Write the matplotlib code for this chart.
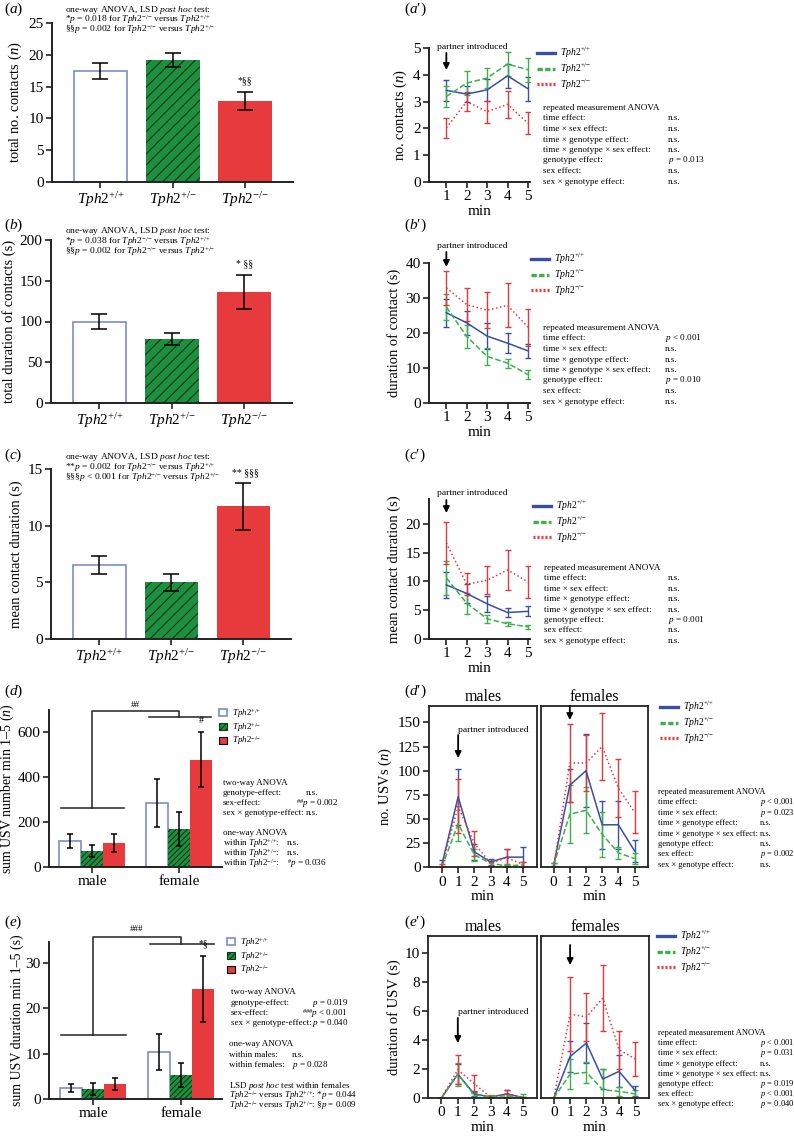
import matplotlib.pyplot as plt
from matplotlib.patches import Patch
from matplotlib.lines import Line2D

# figure size in pixels
W, H = 794, 1137

plt.rcParams['font.family'] = ['Liberation Serif', 'DejaVu Serif']
plt.rcParams['mathtext.fontset'] = 'custom'
plt.rcParams['mathtext.rm'] = 'Liberation Serif'
plt.rcParams['mathtext.it'] = 'Liberation Serif:italic'
plt.rcParams['mathtext.bf'] = 'Liberation Serif:bold'
plt.rcParams['hatch.linewidth'] = 0.8

# genotype labels
wt = r'$\mathit{Tph2}^{{+}/{+}}$'
het = r'$\mathit{Tph2}^{{+}/{-}}$'
ko = r'$\mathit{Tph2}^{{-}/{-}}$'
genotypes = [wt, het, ko]

# (a)-(c) one-way bars, mean and sem per genotype
contacts = [17.5, 19.2, 12.7]
contacts_sem = [1.25, 1.15, 1.4]
duration = [100.0, 78.4, 136.7]
duration_sem = [9.4, 7.6, 20.8]
mean_dur = [6.5, 5.0, 11.7]
mean_dur_sem = [0.78, 0.77, 2.05]

# (d), (e) bars per sex and genotype
sexes = ['male', 'female']
usv_num = [[115, 70, 107], [285, 170, 478]]
usv_num_sem = [[32, 26, 42], [108, 75, 122]]
usv_dur = [[2.4, 2.2, 3.3], [10.3, 5.3, 24.2]]
usv_dur_sem = [[0.8, 1.3, 1.4], [3.95, 2.6, 7.3]]

# (a')-(c') time course, min 1-5 (wt, het, ko)
minutes = [1, 2, 3, 4, 5]
tc_contacts = [[3.42, 3.28, 3.44, 3.96, 3.48],
               [3.19, 3.69, 3.88, 4.40, 4.19],
               [2.02, 3.00, 2.62, 2.90, 2.19]]
tc_contacts_sem = [[0.40, 0.30, 0.40, 0.46, 0.45],
                   [0.39, 0.46, 0.36, 0.46, 0.45],
                   [0.36, 0.36, 0.41, 0.50, 0.41]]
tc_duration = [[25.8, 22.9, 19.1, 17.1, 14.9],
               [27.4, 19.0, 13.3, 11.4, 8.1],
               [32.9, 28.1, 26.5, 27.9, 21.7]]
tc_duration_sem = [[4.0, 3.4, 3.7, 2.9, 2.1],
                   [3.7, 3.4, 2.4, 1.3, 1.3],
                   [4.8, 4.8, 5.2, 6.3, 5.3]]
tc_mean = [[9.4, 7.9, 6.1, 4.6, 4.8],
           [10.6, 6.2, 3.5, 2.65, 2.1],
           [16.7, 9.5, 10.2, 12.0, 9.9]]
tc_mean_sem = [[2.3, 1.6, 1.45, 0.85, 0.85],
               [2.9, 1.8, 0.75, 0.35, 0.4],
               [3.6, 1.9, 2.4, 3.5, 2.7]]

# (d'), (e') time course, min 0-5, [males, females] x (wt, het, ko)
minutes0 = [0, 1, 2, 3, 4, 5]
tc_usv_num = [[[3, 73, 16, 5.5, 10.5, 10.5],
               [0.7, 45, 13, 4, 1.5, 2.5],
               [1.5, 63, 25, 4, 10, 3]],
              [[2, 85, 100, 44, 44, 17],
               [2, 55, 59, 34, 15, 9],
               [0, 108, 108, 125, 82, 57]]]
tc_usv_num_sem = [[[5, 29, 8, 3, 8, 10],
                   [1, 18, 6, 3, 1.5, 2.5],
                   [1.5, 28, 13, 3, 9, 3]],
                  [[2, 17, 38, 25, 25, 11],
                   [2, 30, 24, 23, 6, 6],
                   [1, 40, 29, 35, 30, 22]]]
tc_usv_dur = [[[0, 1.65, 0.28, 0.07, 0.28, 0.02],
               [0, 1.65, 0.20, 0.10, 0.15, 0.05],
               [0, 1.95, 0.99, 0.05, 0.30, 0.02]],
              [[0, 2.87, 3.80, 1.31, 1.84, 0.50],
               [0, 1.65, 1.77, 0.57, 0.46, 0.28],
               [0, 5.80, 5.60, 6.90, 3.33, 2.70]]]
tc_usv_dur_sem = [[[0.02, 0.7, 0.17, 0.05, 0.3, 0.02],
                   [0.02, 0.8, 0.15, 0.12, 0.15, 0.25],
                   [0.02, 1.0, 0.6, 0.05, 0.25, 0.02]],
                  [[0.02, 1.05, 1.4, 0.7, 1.1, 0.35],
                   [0.02, 1.05, 0.75, 1.45, 0.3, 0.25],
                   [0.02, 2.55, 1.65, 2.3, 1.3, 1.15]]]

# statistics shown next to the time courses
anova_rows = ['time effect:', 'time × sex effect:', 'time × genotype effect:',
              'time × genotype × sex effect:', 'genotype effect:', 'sex effect:',
              'sex × genotype effect:']
anova_a = ['n.s.', 'n.s.', 'n.s.', 'n.s.', '$p$ = 0.013', 'n.s.', 'n.s.']
anova_b = ['$p$ < 0.001', 'n.s.', 'n.s.', 'n.s.', '$p$ = 0.010', 'n.s.', 'n.s.']
anova_c = ['n.s.', 'n.s.', 'n.s.', 'n.s.', '$p$ = 0.001', 'n.s.', 'n.s.']
anova_d = ['$p$ < 0.001', '$p$ = 0.023', 'n.s.', 'n.s.', 'n.s.', '$p$ = 0.002', 'n.s.']
anova_e = ['$p$ < 0.001', '$p$ = 0.031', 'n.s.', 'n.s.', '$p$ = 0.019', '$p$ < 0.001', '$p$ = 0.040']

# colours
line_cols = ['#3a4ea3', '#3db049', '#e5383b']
line_styles = ['-', '--', ':']
legend_styles = ['-', (0, (1.6, 0.7)), (0, (0.6, 0.6))]
open_edge = '#7b8cc8'
green_fill = '#1f8f3f'
green_hatch = '#0d3b1a'
red_fill = '#e73a3c'
spine_col = '#222222'


def box(l, t, r, b):
    return [l / W, 1 - b / H, (r - l) / W, (b - t) / H]


def fy(y):
    return 1 - y / H


def txt(x, y, s, size=7, **kw):
    fig.text(x / W, fy(y), s, fontsize=size, va='center', **kw)


def style_axes(ax, size=11):
    for side in ['top', 'right']:
        ax.spines[side].set_visible(False)
    for side in ['left', 'bottom']:
        ax.spines[side].set_color(spine_col)
        ax.spines[side].set_linewidth(1.4)
    ax.tick_params(direction='out', length=4, width=1.2, labelsize=size, color=spine_col, pad=2)


def draw_bars(ax, xs, vals, sems, width, hatch, cap):
    ax.bar(xs[0], vals[0], width=width, color='white', edgecolor=open_edge, linewidth=1.2)
    ax.bar(xs[1], vals[1], width=width, color=green_fill, edgecolor=green_hatch, linewidth=0, hatch=hatch)
    ax.bar(xs[2], vals[2], width=width, color=red_fill, linewidth=0)
    ax.errorbar(xs, vals, yerr=sems, fmt='none', ecolor='black', elinewidth=1.1,
                capsize=cap, capthick=1.1, zorder=5)


def arrow(ax, xval, tail, head):
    ax.annotate('', xy=(xval, fy(head)), xytext=(xval, fy(tail)),
                xycoords=('data', 'figure fraction'), textcoords=('data', 'figure fraction'),
                arrowprops=dict(arrowstyle='-|>', color='black', lw=1.3, mutation_scale=9,
                                shrinkA=0, shrinkB=0),
                annotation_clip=False)


def anova_block(x_lab, y0, x_val, dy, values, size=6.6):
    txt(x_lab, y0, 'repeated measurement ANOVA', size=size)
    for i, (lab, val) in enumerate(zip(anova_rows, values)):
        txt(x_lab, y0 + dy * (i + 1), lab, size=size)
        txt(x_val, y0 + dy * (i + 1), val, size=size)


def line_legend(x, y):
    handles = [Line2D([], [], color=c, ls=s, lw=2.4) for c, s in zip(line_cols, legend_styles)]
    fig.legend(handles, genotypes, loc='upper left', bbox_to_anchor=(x / W, fy(y)),
               frameon=False, fontsize=7, handlelength=1.9, handletextpad=0.5,
               labelspacing=0.12, borderpad=0, borderaxespad=0)


fig = plt.figure(figsize=(W / 100, H / 100), dpi=100)

# ---------------- left column (a)-(c) ----------------
bar_specs = [
    (box(52, 23, 293, 182), contacts, contacts_sem, 25, [0, 5, 10, 15, 20, 25],
     'total no. contacts ($n$)'),
    (box(51, 240, 292, 403), duration, duration_sem, 200, [0, 50, 100, 150, 200],
     'total duration of contacts (s)'),
    (box(51, 469, 291, 639), mean_dur, mean_dur_sem, 15, [0, 5, 10, 15],
     'mean contact duration (s)'),
]
for rect, vals, sems, top, ticks, ylab in bar_specs:
    ax = fig.add_axes(rect)
    draw_bars(ax, [0, 1, 2], vals, sems, 0.74, '///', 6)
    ax.set_xlim(-0.67, 2.66)
    ax.set_ylim(0, top)
    ax.set_yticks(ticks)
    ax.set_xticks([0, 1, 2])
    ax.set_xticklabels(genotypes)
    ax.set_ylabel(ylab, fontsize=10.5, labelpad=3)
    style_axes(ax)

# notes above bars
n = 6.8
txt(65, 10, r'one-way ANOVA, LSD $\mathit{post\ hoc}$ test:', size=n)
txt(65, 20, '*$p$ = 0.018 for ' + ko + ' versus ' + wt, size=n)
txt(65, 30, '§§$p$ = 0.002 for ' + ko + ' versus ' + het, size=n)
txt(245, 81, '*§§', ha='center')
txt(65, 231, r'one-way ANOVA, LSD $\mathit{post\ hoc}$ test:', size=n)
txt(65, 241, '*$p$ = 0.038 for ' + ko + ' versus ' + wt, size=n)
txt(65, 251, '§§$p$ = 0.002 for ' + ko + ' versus ' + het, size=n)
txt(245, 264, '* §§', ha='center')
txt(65, 457, r'one-way ANOVA, LSD $\mathit{post\ hoc}$ test:', size=n)
txt(65, 467, '**$p$ = 0.002 for ' + ko + ' versus ' + wt, size=n)
txt(65, 477, '§§§$p$ < 0.001 for ' + ko + ' versus ' + het, size=n)
txt(245, 473, '** §§§', ha='center')

# ---------------- (d) and (e) ----------------
sex_specs = [
    (box(49, 710, 222, 867), usv_num, usv_num_sem, (-0.494, 1.494), 700, [0, 200, 400, 600],
     'sum USV number min 1–5 ($n$)', (696, 265, 670), ('##', 705), ('#', 635), 219, 707),
    (box(49, 942, 222, 1099), usv_dur, usv_dur_sem, (-0.5, 1.466), 34.6, [0, 10, 20, 30],
     'sum USV duration min 1–5 (s)', (35.6, 14.1, 34.1), ('###', 36.6), ('*§', 33.2), 227, 936),
]
for rect, vals, sems, xl, top, ticks, ylab, br, hashes, star, lx, ltop in sex_specs:
    ax = fig.add_axes(rect)
    for g in range(2):
        xs = [g - 0.25, g, g + 0.25]
        draw_bars(ax, xs, vals[g], sems[g], 0.25, '//////', 2.5)
    ax.set_xlim(*xl)
    ax.set_ylim(0, top)
    ax.set_yticks(ticks)
    ax.set_xticks([0, 1])
    ax.set_xticklabels(sexes)
    ax.tick_params(axis='x', length=0)
    ax.set_ylabel(ylab, fontsize=10, labelpad=1)
    style_axes(ax)
    # significance bracket
    top_y, male_y, female_y = br
    kw = dict(color=spine_col, lw=1.1, clip_on=False)
    ax.plot([0, 0, 1, 1], [male_y, top_y, top_y, female_y], **kw)
    ax.plot([-0.36, 0.37], [male_y, male_y], **kw)
    ax.plot([0.65, 1.37], [female_y, female_y], **kw)
    ax.text(0.5, hashes[1], hashes[0], ha='center', va='bottom', fontsize=6.5)
    ax.text(1.25, star[1], star[0], ha='center', va='bottom', fontsize=7)
    # square legend
    handles = [Patch(facecolor='white', edgecolor=open_edge, lw=1.2),
               Patch(facecolor=green_fill, edgecolor=green_hatch, hatch='//////', lw=0.8),
               Patch(facecolor=red_fill, edgecolor='black', lw=0.8)]
    fig.legend(handles, genotypes, loc='upper left', bbox_to_anchor=(lx / W, fy(ltop)),
               frameon=False, fontsize=6.5, handlelength=0.9, handleheight=0.8,
               handletextpad=0.5, labelspacing=0.08, borderpad=0, borderaxespad=0)

# stats (d)
s = 6.5
txt(223, 783, 'two-way ANOVA', size=s)
txt(223, 793, 'genotype-effect:', size=s)
txt(306, 793, 'n.s.', size=s)
txt(223, 803, 'sex-effect:', size=s)
txt(296, 803, r'$^{\#\#}p$ = 0.002', size=s)
txt(223, 813, 'sex × genotype-effect:', size=s)
txt(306, 813, 'n.s.', size=s)
txt(223, 833, 'one-way ANOVA', size=s)
txt(223, 843, 'within ' + wt + ':', size=s)
txt(287, 843, 'n.s.', size=s)
txt(223, 853, 'within ' + het + ':', size=s)
txt(287, 853, 'n.s.', size=s)
txt(223, 864, 'within ' + ko + ':', size=s)
txt(287, 864, r'$^{\#}p$ = 0.036', size=s)

# stats (e)
txt(231, 992, 'two-way ANOVA', size=s)
txt(231, 1003, 'genotype-effect:', size=s)
txt(312, 1003, '$p$ = 0.019', size=s)
txt(231, 1013, 'sex-effect:', size=s)
txt(302, 1013, r'$^{\#\#\#}p$ < 0.001', size=s)
txt(231, 1023, 'sex × genotype-effect:', size=s)
txt(312, 1023, '$p$ = 0.040', size=s)
txt(229, 1044, 'one-way ANOVA', size=s)
txt(229, 1055, 'within males:', size=s)
txt(292, 1055, 'n.s.', size=s)
txt(229, 1065, 'within females:', size=s)
txt(292, 1065, '$p$ = 0.028', size=s)
txt(229, 1086, r'LSD $\mathit{post\ hoc}$ test within females', size=s)
txt(229, 1096, ko + ' versus ' + wt + ': *$p$ = 0.044', size=s)
txt(229, 1106, ko + ' versus ' + het + ': §$p$ = 0.009', size=s)

# ---------------- right column (a')-(c') ----------------
tc_specs = [
    (box(429, 48, 530, 182), tc_contacts, tc_contacts_sem, 5, [0, 1, 2, 3, 4, 5],
     'no. contacts ($n$)', 47, (53, 70), (537, 46), (543, 108, 668, 10.5), anova_a),
    (box(429, 263, 530, 403), tc_duration, tc_duration_sem, 40, [0, 10, 20, 30, 40],
     'duration of contact (s)', 246, (252, 267), (531, 252), (543, 328, 665, 10.5), anova_b),
    (box(429, 499, 530, 639), tc_mean, tc_mean_sem, 24.3, [0, 5, 10, 15, 20],
     'mean contact duration (s)', 493, (500, 513), (533, 499), (544, 568, 668, 10.4), anova_c),
]
for rect, means, sems, top, ticks, ylab, pi_y, arr, leg, blk, vals in tc_specs:
    ax = fig.add_axes(rect)
    for m, e, c, ls in zip(means, sems, line_cols, line_styles):
        ax.errorbar(minutes, m, yerr=e, color=c, ls=ls, lw=1.1, elinewidth=1,
                    capsize=2.5, capthick=1)
    ax.set_xlim(0.15, 5.1)
    ax.set_ylim(0, top)
    ax.set_yticks(ticks)
    ax.set_xticks(minutes)
    ax.set_xlabel('min', fontsize=11, labelpad=1)
    ax.set_ylabel(ylab, fontsize=10.5, labelpad=3)
    style_axes(ax)
    txt(437, pi_y, 'partner introduced', size=6.8)
    arrow(ax, 1, arr[0], arr[1])
    line_legend(*leg)
    anova_block(*blk, vals)

# ---------------- (d') and (e') males / females ----------------
sexpanel_specs = [
    ((429, 536.7, 540.7, 648.3), 706, 867.3, tc_usv_num, tc_usv_num_sem, 167,
     [0, 25, 50, 75, 100, 125, 150], 'no. USVs ($n$)', 697, 730, (735, 758), (706, 720),
     (660, 700), (658, 792, 760, 10.4), anova_d),
    ((428.3, 537.3, 540.7, 649.3), 936, 1098, tc_usv_dur, tc_usv_dur_sem, 11.2,
     [0, 2, 4, 6, 8, 10], 'duration of USV (s)', 927, 1012, (1018, 1043), (945, 965),
     (657, 929), (658, 1033, 760, 10.2), anova_e),
]
for (l1, r1, l2, r2), t, b, means, sems, top, ticks, ylab, title_y, pi_y, arr_m, arr_f, leg, blk, vals in sexpanel_specs:
    for k, (l, r) in enumerate([(l1, r1), (l2, r2)]):
        ax = fig.add_axes(box(l, t, r, b))
        for m, e, c, ls in zip(means[k], sems[k], line_cols, line_styles):
            ax.errorbar(minutes0, m, yerr=e, color=c, ls=ls, lw=1.1, elinewidth=1,
                        capsize=2.5, capthick=1)
        ax.set_xlim(-0.8, 5.85)
        ax.set_ylim(0, top)
        ax.set_yticks(ticks)
        ax.set_xticks(minutes0)
        ax.set_xlabel('min', fontsize=11, labelpad=1)
        for side in ax.spines.values():
            side.set_color(spine_col)
            side.set_linewidth(1.3)
        ax.tick_params(direction='out', length=4, width=1.2, labelsize=11, color=spine_col, pad=2)
        if k == 0:
            ax.set_ylabel(ylab, fontsize=10.5, labelpad=3)
            txt((l + r) / 2 + 10, pi_y, 'partner introduced', size=6.8, ha='center')
            arrow(ax, 1, arr_m[0], arr_m[1])
        else:
            ax.tick_params(axis='y', left=False, labelleft=False)
            arrow(ax, 1, arr_f[0], arr_f[1])
        txt((l + r) / 2, title_y, ['males', 'females'][k], size=11.5, ha='center')
    line_legend(*leg)
    anova_block(*blk, vals, size=6.1)

# panel letters
for x, y, s in [(4, 9, 'a'), (4, 225, 'b'), (4, 455, 'c'), (4, 691, 'd'), (4, 922, 'e')]:
    txt(x, y, '($\\mathit{' + s + '}$)', size=11)
for x, y, s in [(404, 9, 'a'), (404, 225, 'b'), (404, 455, 'c'), (404, 691, 'd'), (404, 922, 'e')]:
    txt(x, y, '($\\mathit{' + s + '}$′)', size=11)

fig.savefig('out.png', dpi=100)
